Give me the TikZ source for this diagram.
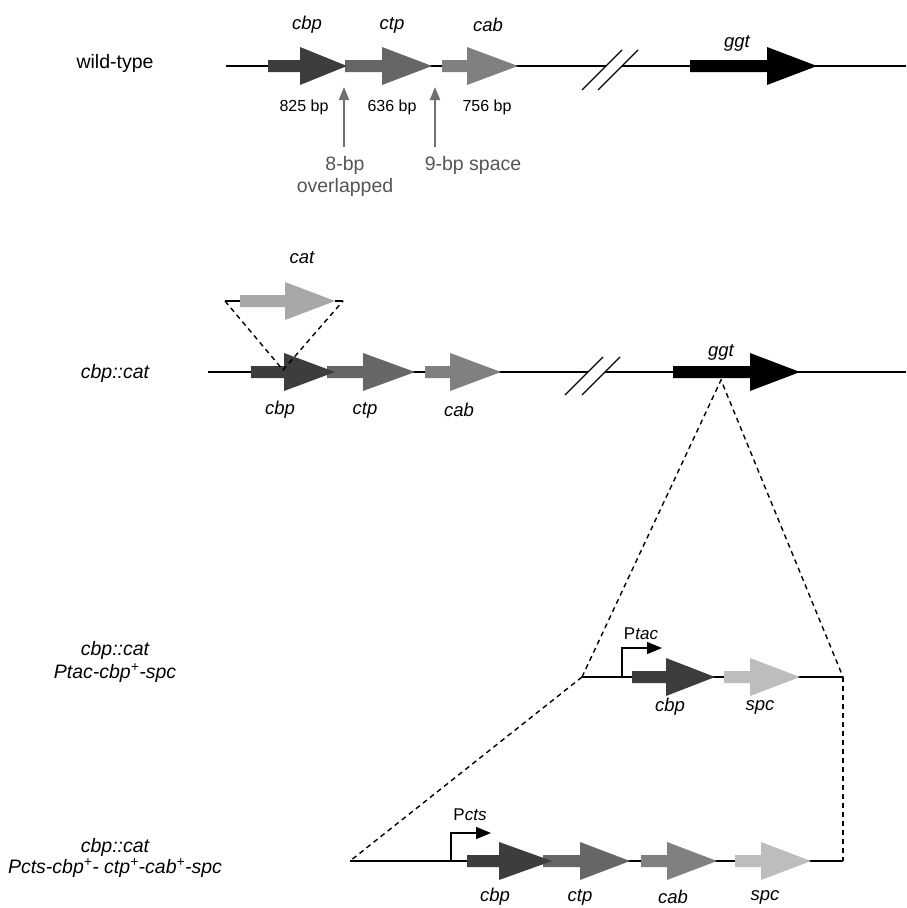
\documentclass[tikz,border=0pt]{standalone}
\usepackage{fontspec}
\setmainfont{Liberation Sans}
\usetikzlibrary{arrows.meta}
\definecolor{cbpc}{HTML}{3D3D3D}
\definecolor{ctpc}{HTML}{666666}
\definecolor{cabc}{HTML}{808080}
\definecolor{catc}{HTML}{A8A8A8}
\definecolor{spcc}{HTML}{BDBDBD}
\definecolor{ptrc}{HTML}{707070}
\definecolor{ptxt}{HTML}{555555}
\newcommand{\genearrow}[5]{\fill[#5] (#1,#4-6) -- (#2,#4-6) -- (#2,#4-19) -- (#3,#4) -- (#2,#4+19) -- (#2,#4+6) -- (#1,#4+6) -- cycle;}
\tikzset{
  dna/.style={line width=1.4pt, black},
  slash/.style={line width=1.3pt, black},
  dashline/.style={line width=1.4pt, dash pattern=on 5pt off 4pt},
  biglab/.style={font=\fontsize{19.5}{23}\selectfont, inner sep=0pt},
  genelab/.style={font=\fontsize{18.5}{22}\selectfont\itshape, inner sep=0pt},
  bplab/.style={font=\fontsize{16}{19}\selectfont, inner sep=0pt},
  graylab/.style={font=\fontsize{19.5}{23}\selectfont, text=ptxt, inner sep=0pt},
  promlab/.style={font=\fontsize{17}{20}\selectfont, inner sep=0pt},
  pointer/.style={line width=2pt, ptrc, -{Triangle[length=13pt,width=10pt]}},
  promoter/.style={line width=1.4pt, black, -{Triangle[length=15pt,width=12pt]}}
}
\begin{document}
\begin{tikzpicture}[x=1pt,y=-1pt]
\useasboundingbox (0,0) rectangle (906,908);

% ---------- left labels ----------
\node[biglab] (lwt) at (115,63) {wild-type};
\node[biglab,font=\fontsize{19.5}{23}\selectfont\itshape] (l2) at (115,373) {cbp::cat};
\node[biglab,font=\fontsize{19.5}{23}\selectfont\itshape] (l3a) at (115,650) {cbp::cat};
\node[biglab,font=\fontsize{19.5}{23}\selectfont\itshape] (l3b) at (115,673) {Ptac-cbp\textsuperscript{+}-spc};
\node[biglab,font=\fontsize{19.5}{23}\selectfont\itshape] (l4a) at (115,847) {cbp::cat};
\node[biglab,font=\fontsize{19.5}{23}\selectfont\itshape] (l4b) at (115,868) {Pcts-cbp\textsuperscript{+}- ctp\textsuperscript{+}-cab\textsuperscript{+}-spc};

% ---------- row 1: wild-type ----------
\coordinate (r1a) at (226,66);
\coordinate (r1b) at (606,66);
\coordinate (r1c) at (622,66);
\coordinate (r1d) at (906,66);
\draw[dna] (r1a) -- (r1b);
\draw[dna] (r1c) -- (r1d);
\draw[slash] (582,90) -- (622,50);
\draw[slash] (598,90) -- (638,50);
\genearrow{442}{467}{518}{66}{cabc}
\genearrow{345}{382}{432}{66}{ctpc}
\genearrow{268}{300}{347}{66}{cbpc}
\genearrow{690}{767}{817}{66}{black}
\node[genelab] (g1cbp) at (307,25) {cbp};
\node[genelab] (g1ctp) at (392,25) {ctp};
\node[genelab] (g1cab) at (488,25) {cab};
\node[genelab] (g1ggt) at (737,43) {ggt};
\node[bplab] (bp1) at (304,107) {825 bp};
\node[bplab] (bp2) at (392,107) {636 bp};
\node[bplab] (bp3) at (487,107) {756 bp};
\coordinate (p1s) at (344,147);
\coordinate (p1e) at (344,87);
\coordinate (p2s) at (435,147);
\coordinate (p2e) at (435,87);
\draw[pointer] (p1s) -- (p1e);
\draw[pointer] (p2s) -- (p2e);
\node[graylab] (ov1) at (345,165) {8-bp};
\node[graylab] (ov2) at (345,187) {overlapped};
\node[graylab] (sp) at (473,165) {9-bp space};

% ---------- row 2: cbp::cat ----------
\coordinate (r2a) at (208,372);
\coordinate (r2b) at (588,372);
\coordinate (r2c) at (605,372);
\coordinate (r2d) at (906,372);
\draw[dna] (r2a) -- (r2b);
\draw[dna] (r2c) -- (r2d);
\draw[slash] (565,395) -- (603,357);
\draw[slash] (582,395) -- (620,357);
\genearrow{425}{450}{501}{372}{cabc}
\genearrow{327}{363}{415}{372}{ctpc}
\genearrow{251}{284}{335}{372}{cbpc}
\genearrow{673}{750}{800}{372}{black}
% cat insertion
\coordinate (catl) at (225,301);
\coordinate (catr) at (343,301);
\coordinate (catp) at (283,370);
\draw[dna] (catl) -- (240,301);
\draw[dna] (335,301) -- (catr);
\genearrow{240}{285}{335}{301}{catc}
\draw[dashline] (catl) -- (catp) -- (catr);
\node[genelab] (g2cat) at (302,258) {cat};
\node[genelab] (g2cbp) at (280,410) {cbp};
\node[genelab] (g2ctp) at (365,410) {ctp};
\node[genelab] (g2cab) at (459,410) {cab};
\node[genelab] (g2ggt) at (721,352) {ggt};

% ---------- expansion dashed lines ----------
\coordinate (apex) at (721,380);
\coordinate (r3l) at (582,677);
\coordinate (r3r) at (843,677);
\coordinate (r4l) at (350,861);
\coordinate (r4r) at (843,861);
\draw[dashline] (r3l) -- (apex) -- (r3r);
\draw[dashline] (r3l) -- (r4l);
\draw[dashline] (r3r) -- (r4r);

% ---------- row 3: Ptac ----------
\draw[dna] (r3l) -- (r3r);
\genearrow{724}{750}{800}{677}{spcc}
\genearrow{632}{666}{715}{677}{cbpc}
\coordinate (pt0) at (622,677);
\coordinate (pt1) at (622,648);
\coordinate (pt2) at (662,648);
\draw[promoter] (pt0) -- (pt1) -- (pt2);
\node[promlab] (ptac) at (641,634) {P\textit{tac}};
\node[genelab] (g3cbp) at (670,707) {cbp};
\node[genelab] (g3spc) at (760,707) {spc};

% ---------- row 4: Pcts ----------
\draw[dna] (r4l) -- (r4r);
\genearrow{735}{761}{811}{861}{spcc}
\genearrow{641}{667}{717}{861}{cabc}
\genearrow{543}{580}{630}{861}{ctpc}
\genearrow{467}{499}{552}{861}{cbpc}
\coordinate (pc0) at (451,861);
\coordinate (pc1) at (451,833);
\coordinate (pc2) at (491,833);
\draw[promoter] (pc0) -- (pc1) -- (pc2);
\node[promlab] (pcts) at (470,815) {P\textit{cts}};
\node[genelab] (g4cbp) at (495,897) {cbp};
\node[genelab] (g4ctp) at (580,897) {ctp};
\node[genelab] (g4cab) at (673,897) {cab};
\node[genelab] (g4spc) at (765,897) {spc};
\end{tikzpicture}
\end{document}
